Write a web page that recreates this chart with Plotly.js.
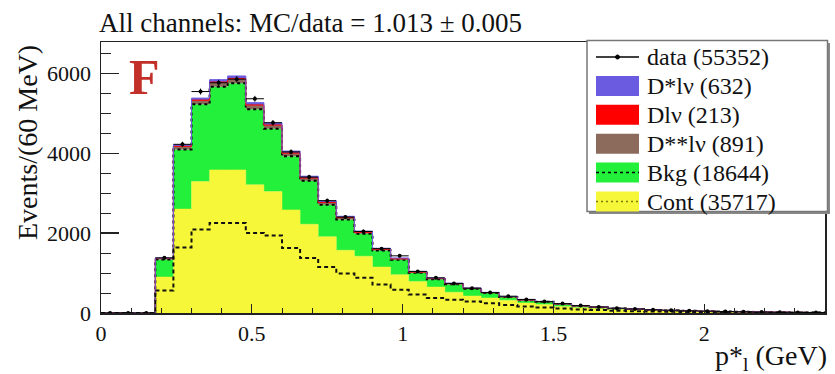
<!DOCTYPE html>
<html>
<head>
<meta charset="utf-8">
<script src="https://cdn.plot.ly/plotly-3.0.1.min.js"></script>
<style>
html,body{margin:0;padding:0;background:#fff;}
#chart{width:835px;height:374px;}
#chart .xtick text, #chart .ytick text { font-family: 'Liberation Serif', serif !important; }
</style>
</head>
<body>
<div id="chart"></div>
<script>
// p*_l histogram, 40 bins of 60 MeV from 0 to 2.4 GeV
const binWidth = 0.06;
const nBins = 40;

// Stacked components (events per bin), bottom to top
const cont = [0,0,0,900,2600,3290,3580,3580,3210,3040,2580,2220,1910,1570,1420,1150,960,790,650,520,425,375,320,250,210,165,130,110,90,75,60,50,42,35,27,23,19,15,11,8];
const bkg  = [0,0,0,440,1490,1930,2080,2170,1890,1570,1340,1090,800,770,560,415,370,215,195,200,180,125,80,70,70,58,45,36,22,23,18,14,12,9,8,7,6,5,4,2];
const dsslv = [0,0,0,20,65,85,95,95,85,75,65,55,45,38,32,26,22,17,14,12,10,8,6,5,4,3,3,2,2,1,1,1,1,1,0,0,0,0,0,0];
const dlv   = [0,0,0,5,16,21,23,23,20,18,16,13,11,9,8,6,5,4,3,3,2,2,1,1,1,1,0,0,0,0,0,0,0,0,0,0,0,0,0,0];
const dstlv = [0,0,0,10,35,50,60,62,58,53,50,44,37,32,28,23,20,15,13,11,9,7,6,5,4,3,2,2,1,1,1,0,0,0,0,0,0,0,0,0];
// inner dashed histogram drawn inside the continuum
const innerLine = [0,0,0,565,1640,2090,2250,2250,2000,1940,1625,1375,1150,990,880,710,580,460,375,330,290,245,200,165,135,110,90,72,58,46,37,30,24,19,15,12,9,7,5,4];
// data
const data = [0,0,0,1380,4220,5540,5760,5850,5360,4760,4030,3400,2810,2400,2040,1610,1430,1040,880,740,620,510,420,340,285,235,185,150,120,100,80,70,55,45,35,30,22,18,15,10];

const legendNames = ["data (55352)","D*lν (632)","Dlν (213)","D**lν (891)","Bkg (18644)","Cont (35717)"];
const titleText = "All channels: MC/data = 1.013 ± 0.005";
const xTitle = "p*<sub>l</sub> (GeV)";
const yTitle = "Events/(60 MeV)";

const colors = {cont:'#f7f739', bkg:'#22f03a', dss:'#8c6b5c', dl:'#ff0000', dst:'#6a5be0'};

// build step (hv) x edges and cumulative sums
const edges = [];
for (let i = 0; i <= nBins; i++) edges.push(+(i * binWidth).toFixed(4));
const centers = [];
for (let i = 0; i < nBins; i++) centers.push(+((i + 0.5) * binWidth).toFixed(4));
function stepY(arr){ return arr.concat([arr[arr.length-1]]); }
function addArr(a,b){ return a.map((v,i)=>v+b[i]); }
const c1 = cont;
const c2 = addArr(c1, bkg);
const c3 = addArr(c2, dsslv);
const c4 = addArr(c3, dlv);
const c5 = addArr(c4, dstlv);

const serif = "Liberation Serif";
const traces = [
  {x: edges, y: stepY(c1), type:'scatter', mode:'lines', line:{shape:'hv', color:colors.cont, width:0.5},
   fill:'tozeroy', fillcolor:colors.cont, name: legendNames[5], showlegend:false},
  {x: edges, y: stepY(c2), type:'scatter', mode:'lines', line:{shape:'hv', color:'#000', width:2, dash:'3px,3px'},
   fill:'tonexty', fillcolor:colors.bkg, name: legendNames[4], showlegend:false},
  {x: edges, y: stepY(c3), type:'scatter', mode:'lines', line:{shape:'hv', color:colors.dss, width:1},
   fill:'tonexty', fillcolor:colors.dss, name: legendNames[3], showlegend:false},
  {x: edges, y: stepY(c4), type:'scatter', mode:'lines', line:{shape:'hv', color:colors.dl, width:1},
   fill:'tonexty', fillcolor:colors.dl, name: legendNames[2], showlegend:false},
  {x: edges, y: stepY(c5), type:'scatter', mode:'lines', line:{shape:'hv', color:colors.dst, width:1},
   fill:'tonexty', fillcolor:colors.dst, name: legendNames[1], showlegend:false},
  {x: edges, y: stepY(innerLine), type:'scatter', mode:'lines', line:{shape:'hv', color:'#111', width:2, dash:'4px,3px'},
   showlegend:false, hoverinfo:'skip'},
  {x: centers, y: data, type:'scatter', mode:'markers', marker:{color:'#000', size:4},
   error_y:{type:'sqrt', color:'#000', thickness:1, width:0},
   error_x:{type:'constant', value: binWidth/2, color:'#000', thickness:1, width:0},
   name: legendNames[0], showlegend:false}
];

// plot-area geometry (pixels) used to place the hand-drawn legend box
const W = 835, H = 374, L = 101, R = 10, T = 42, B = 61;
const pw = W - L - R, ph = H - T - B;
const px = v => (v - L) / pw;
const py = v => (H - B - v) / ph;

const shapes = [];
const annotations = [];
// legend frame (with ROOT-like shadow)
shapes.push({type:'rect', xref:'paper', yref:'paper', x0:px(589), x1:px(830), y0:py(214), y1:py(43),
             line:{width:0}, fillcolor:'#888', layer:'above'});
shapes.push({type:'rect', xref:'paper', yref:'paper', x0:px(587), x1:px(827.5), y0:py(211.5), y1:py(40.5),
             line:{color:'#777', width:1.5}, fillcolor:'#fff', layer:'above'});
const rowY = i => 57 + 28.9 * i;
const symX0 = 596, symX1 = 639;
const legendFill = [null, colors.dst, colors.dl, colors.dss, colors.bkg, colors.cont];
legendNames.forEach((name, i) => {
  const yc = rowY(i);
  if (legendFill[i]) {
    shapes.push({type:'rect', xref:'paper', yref:'paper', x0:px(symX0), x1:px(symX1), y0:py(yc+10), y1:py(yc-10),
                 line:{width:0}, fillcolor:legendFill[i], layer:'above'});
  }
  if (i === 0) {
    shapes.push({type:'line', xref:'paper', yref:'paper', x0:px(symX0), x1:px(symX1), y0:py(yc), y1:py(yc),
                 line:{color:'#000', width:1.5}, layer:'above'});
    shapes.push({type:'circle', xref:'paper', yref:'paper', x0:px(615.5), x1:px(619.5), y0:py(yc+2), y1:py(yc-2),
                 line:{color:'#000', width:1}, fillcolor:'#000', layer:'above'});
  }
  if (i === 4) {
    shapes.push({type:'line', xref:'paper', yref:'paper', x0:px(symX0), x1:px(symX1), y0:py(yc), y1:py(yc),
                 line:{color:'#000', width:1.5, dash:'3px,3px'}, layer:'above'});
  }
  if (i === 5) {
    shapes.push({type:'line', xref:'paper', yref:'paper', x0:px(symX0), x1:px(symX1), y0:py(yc), y1:py(yc),
                 line:{color:'#7a7a10', width:1.5, dash:'2px,3px'}, layer:'above'});
  }
  annotations.push({text:name, xref:'paper', yref:'paper', x:px(645), y:py(yc), xanchor:'left', yanchor:'middle',
                    showarrow:false, font:{family:serif, size:24, color:'#111'}});
});
// big "F" label
annotations.push({text:'<b>F</b>', xref:'paper', yref:'paper', x:px(127), y:py(47), xanchor:'left', yanchor:'top',
                  showarrow:false, font:{family:serif, size:50, color:'#c3302a'}});
// axis titles
annotations.push({text:xTitle, xref:'paper', yref:'paper', x:1.005, y:py(357), xanchor:'right', yanchor:'middle',
                  showarrow:false, font:{family:serif, size:28, color:'#111'}});
annotations.push({text:yTitle, xref:'paper', yref:'paper', x:px(27), y:py(143), xanchor:'center', yanchor:'middle',
                  textangle:-90, showarrow:false, font:{family:serif, size:28, color:'#111'}});

const layout = {
  width: W, height: H,
  margin: {l:L, r:R, t:T, b:B, pad:0},
  paper_bgcolor:'#fff', plot_bgcolor:'#fff',
  font: {family: serif, color:'#111', size:22},
  showlegend: false,
  title: {text: titleText, font:{family: serif, size:27, color:'#111'},
          xref:'container', x: 99/W, xanchor:'left', yref:'container', y: 1-23/H, yanchor:'middle'},
  xaxis: {range:[0,2.4], showgrid:false, zeroline:false, showline:true, linecolor:'#222', linewidth:1.5, mirror:true,
          ticks:'inside', ticklen:9, tickwidth:1.2, tickcolor:'#222', tick0:0, dtick:0.5,
          minor:{ticks:'inside', ticklen:5, dtick:0.1, tickcolor:'#222', tickwidth:1},
          tickfont:{family: serif, size:22, color:'#111'}},
  yaxis: {range:[0,6780], showgrid:false, zeroline:false, showline:true, linecolor:'#222', linewidth:1.5, mirror:true,
          ticks:'inside', ticklen:18, tickwidth:1.2, tickcolor:'#222', tick0:0, dtick:2000,
          minor:{ticks:'inside', ticklen:10, dtick:500, tickcolor:'#222', tickwidth:1},
          tickfont:{family: serif, size:22, color:'#111'}, ticklabelstandoff:4},
  shapes: shapes,
  annotations: annotations
};

Plotly.newPlot('chart', traces, layout, {displayModeBar:false, staticPlot:true});
</script>
</body>
</html>
